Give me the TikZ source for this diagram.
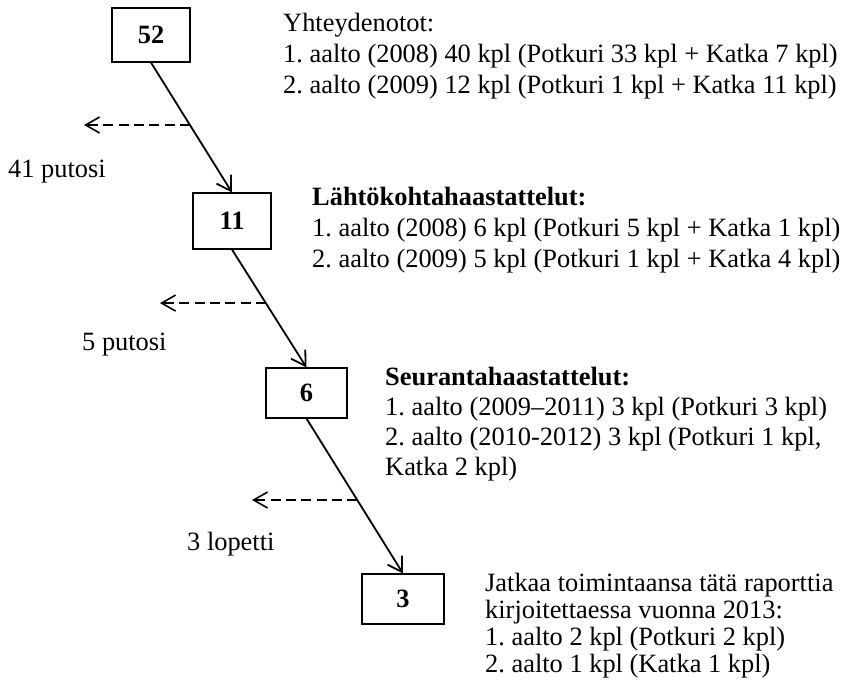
\documentclass[tikz,border=0pt]{standalone}
\usepackage{fontspec}
\setmainfont{Liberation Serif}
\usetikzlibrary{arrows.meta}
\frenchspacing
\newcommand{\bodysize}[1]{\fontsize{26.4}{#1}\selectfont}
\begin{document}
\begin{tikzpicture}[x=1pt,y=-1pt,
  countbox/.style={draw, line width=1.1pt, inner sep=0pt,
    font=\bodysize{31}\bfseries},
  flow/.style={line width=1.8pt,
    -{Straight Barb[length=14pt,width=17pt,line width=1.8pt]}},
  drop/.style={line width=1.6pt, dash pattern=on 10pt off 5.3pt,
    -{Straight Barb[length=14pt,width=16pt,line width=1.6pt,sep=0pt]}},
  label/.style={inner sep=0pt, anchor=base west, font=\bodysize{31}},
  % the base anchor of a multi-line block sits on its last line
  block/.style={inner sep=0pt, anchor=base west, align=left},
]
\useasboundingbox (0,0) rectangle (851,688);

% stages with their counts
\node[countbox, minimum width=78pt, minimum height=54pt] (b52) at (151,35) {52};
\node[countbox, minimum width=78pt, minimum height=56pt] (b11) at (232,221) {11};
\node[countbox, minimum width=81pt, minimum height=50pt] (b6) at (306.5,393) {6};
\node[countbox, minimum width=82pt, minimum height=50pt] (b3) at (403,599) {3};

% flow between stages
\draw[flow] (b52.south) -- coordinate[pos=0.481] (s1) (b11.north);
\draw[flow] (b11.south) -- coordinate[pos=0.454] (s2) (b6.north);
\draw[flow] (b6.south) -- coordinate[pos=0.526] (s3) (b3.north);

% drop-outs
\coordinate (e1) at (84,0);
\coordinate (e2) at (160,0);
\coordinate (e3) at (252,0);
\draw[drop] (s1) -- (s1 -| e1);
\draw[drop] (s2) -- (s2 -| e2);
\draw[drop] (s3) -- (s3 -| e3);

\node[label] (l1) at (8,177) {41 putosi};
\node[label] (l2) at (82,350) {5 putosi};
\node[label] (l3) at (187,550) {3 lopetti};

% descriptions
\node[block, font=\bodysize{31}] (t1) at (283,93)
  {Yhteydenotot:\\
   1. aalto (2008) 40 kpl (Potkuri 33 kpl + Katka 7 kpl)\\
   2. aalto (2009) 12 kpl (Potkuri 1 kpl + Katka 11 kpl)};
\node[block, font=\bodysize{31}] (t2) at (312,267)
  {\textbf{Lähtökohtahaastattelut:}\\
   1. aalto (2008) 6 kpl (Potkuri 5 kpl + Katka 1 kpl)\\
   2. aalto (2009) 5 kpl (Potkuri 1 kpl + Katka 4 kpl)};
\node[block, font=\bodysize{30}] (t3) at (385,475)
  {\textbf{Seurantahaastattelut:}\\
   1. aalto (2009–2011) 3 kpl (Potkuri 3 kpl)\\
   2. aalto (2010-2012) 3 kpl (Potkuri 1 kpl,\\
   Katka 2 kpl)};
\node[block, font=\bodysize{26.7}] (t4) at (485,672)
  {Jatkaa toimintaansa tätä raporttia\\
   kirjoitettaessa vuonna 2013:\\
   1. aalto 2 kpl (Potkuri 2 kpl)\\
   2. aalto 1 kpl (Katka 1 kpl)};
\end{tikzpicture}
\end{document}
